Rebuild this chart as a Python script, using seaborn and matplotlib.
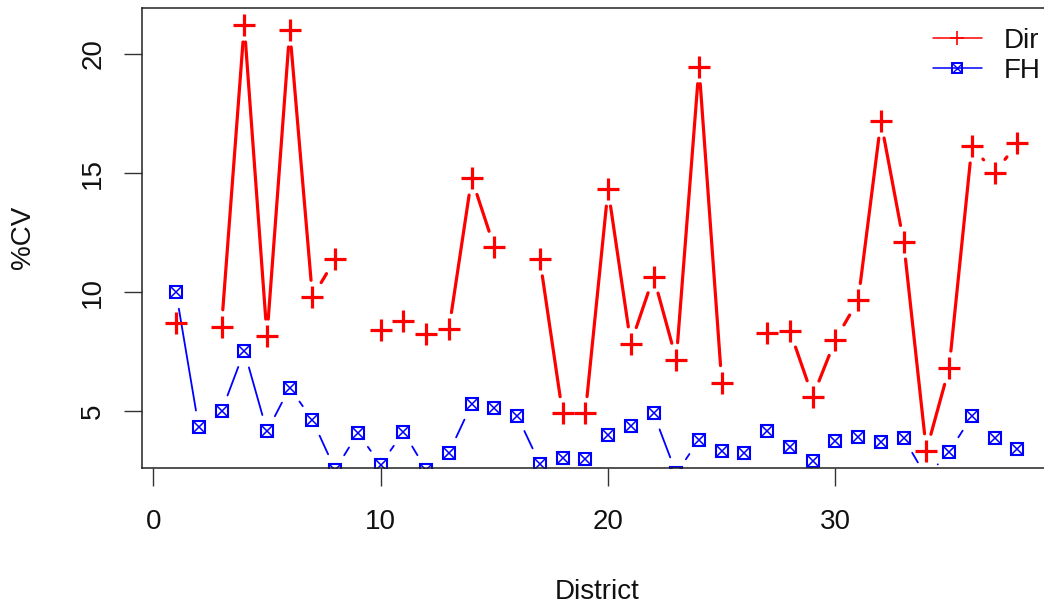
import numpy as np
import pandas as pd
import matplotlib
matplotlib.use("Agg")
import matplotlib.pyplot as plt
import seaborn as sns
from matplotlib.lines import Line2D
from matplotlib.legend_handler import HandlerTuple

# ---------------- data ----------------
district = list(range(1, 39))
dir_cv = [8.72, np.nan, 8.55, 21.21, 8.16, 21.00, 9.79, 11.39, np.nan, 8.40,
          8.78, 8.26, 8.44, 14.78, 11.88, np.nan, 11.39, 4.91, 4.91, 14.32,
          7.84, 10.65, 7.17, 19.46, 6.21, np.nan, 8.30, 8.37, 5.61, 8.01,
          9.66, 17.17, 12.10, 3.35, 6.82, 16.13, 15.01, 16.24]
fh_cv = [10.01, 4.33, 5.00, 7.53, 4.16, 6.00, 4.63, 2.55, 4.09, 2.76,
         4.14, 2.55, 3.26, 5.30, 5.14, 4.82, 2.80, 3.03, 2.98, 4.01,
         4.40, 4.91, 2.40, 3.80, 3.35, 3.26, 4.16, 3.52, 2.90, 3.77,
         3.91, 3.70, 3.88, 2.24, 3.31, 4.79, 3.88, 3.42]
series_names = ["Dir", "FH"]
x_ticks = [0, 10, 20, 30]
y_ticks = [5, 10, 15, 20]

# ---------------- style ----------------
sns.set_theme(style="white")
plt.rcParams["font.family"] = ["Liberation Sans", "DejaVu Sans"]
FS = 20

W, H, DPI = 1044, 608, 100
fig = plt.figure(figsize=(W / DPI, H / DPI), dpi=DPI)
ax = fig.add_axes([142.4 / W, 1 - 467.7 / H, (1051 - 142.4) / W, (467.7 - 8) / H])

# R-like limits (4% padding, y range taken from Dir)
x = np.array(district, dtype=float)
yd = np.array(dir_cv, dtype=float)
yf = np.array(fh_cv, dtype=float)
xr = x.max() - x.min()
ax.set_xlim(x.min() - 0.04 * xr, x.max() + 0.04 * xr)
dmin, dmax = np.nanmin(yd), np.nanmax(yd)
yr = dmax - dmin
ax.set_ylim(dmin - 0.04 * yr, dmax + 0.04 * yr)
xlim, ylim = ax.get_xlim(), ax.get_ylim()


def gapped_segments(xv, yv, gap_px):
    """R type='b': segments between consecutive points, with gaps at points."""
    to_px = ax.transData
    to_data = ax.transData.inverted()
    rows = []
    for i in range(len(xv) - 1):
        if np.isnan(yv[i]) or np.isnan(yv[i + 1]):
            continue
        p0 = to_px.transform((xv[i], yv[i]))
        p1 = to_px.transform((xv[i + 1], yv[i + 1]))
        d = p1 - p0
        L = np.hypot(*d)
        if L <= 2 * gap_px:
            continue
        u = d / L
        a = to_data.transform(p0 + u * gap_px)
        b = to_data.transform(p1 - u * gap_px)
        rows += [(i, a[0], a[1]), (i, b[0], b[1])]
    return pd.DataFrame(rows, columns=["seg", "x", "y"])


GAP = 17
seg_d = gapped_segments(x, yd, GAP)
seg_f = gapped_segments(x, yf, GAP)

sns.lineplot(data=seg_d, x="x", y="y", units="seg", estimator=None, sort=False,
             color="red", lw=2.3, ax=ax, legend=False)
sns.lineplot(data=seg_f, x="x", y="y", units="seg", estimator=None, sort=False,
             color="blue", lw=1.3, ax=ax, legend=False)

# markers
ax.plot(x, yd, ls="none", marker="+", ms=15.5, mew=2.3, color="red")
ax.plot(x, yf, ls="none", marker="s", ms=9.0, mfc="none", mec="blue", mew=1.5)
ax.plot(x, yf, ls="none", marker="x", ms=9.0, mew=1.1, color="blue")

ax.set_xlim(xlim)
ax.set_ylim(ylim)

# axes styling
for s in ax.spines.values():
    s.set_visible(True)
    s.set_color("#222222")
    s.set_linewidth(1.1)
ax.set_xticks(x_ticks)
ax.set_yticks(y_ticks)
ax.tick_params(axis="both", which="major", length=13, width=1.0, color="#333333",
               labelsize=FS, labelcolor="#111111", direction="out")
ax.tick_params(axis="x", pad=17, bottom=True)
ax.tick_params(axis="y", pad=13, left=True, labelrotation=90)
for lab in ax.get_yticklabels():
    lab.set_va("center")
ax.grid(False)

ax.set_xlabel("District", fontsize=FS, color="#111111", va="center")
ax.xaxis.set_label_coords(0.5, (467.7 - 592) / (467.7 - 8))
ax.set_ylabel("%CV", fontsize=FS, color="#111111", va="center")
ax.yaxis.set_label_coords((22.5 - 142.4) / (1051 - 142.4), 0.5)

# legend
h_dir = Line2D([], [], color="red", lw=1.1, marker="+", ms=10, mew=1.2)
h_fh_sq = Line2D([], [], color="blue", lw=1.1, marker="s", ms=7.5, mfc="none", mew=1.4)
h_fh_x = Line2D([], [], color="blue", ls="none", marker="x", ms=7.5, mew=1.0)
fig.legend([h_dir, (h_fh_sq, h_fh_x)], series_names,
           handler_map={tuple: HandlerTuple(ndivide=1, pad=0)},
           loc="upper left", bbox_to_anchor=(933.3 / W, 1 - 27.5 / H),
           frameon=False, borderpad=0, borderaxespad=0, fontsize=FS,
           handlelength=1.74, handletextpad=0.8, labelspacing=0.15,
           labelcolor="#111111")

fig.savefig("out.png", dpi=DPI)
